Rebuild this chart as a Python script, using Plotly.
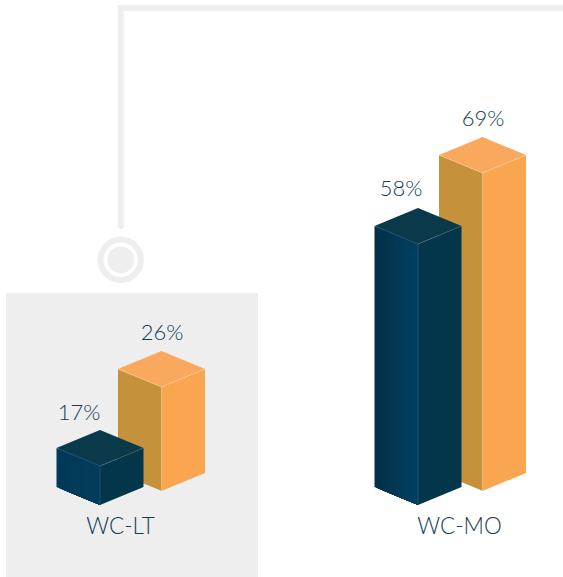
import plotly.graph_objects as go

# Data
categories = ["WC-LT", "WC-MO"]
series_navy_labels = [17, 58]
series_orange_labels = [26, 69]
# Drawn front-edge heights of the columns (the picture is not to a common scale)
navy_heights = [39, 261]
orange_heights = [104, 318]

W, H = 563, 577
HALF_W, HALF_D = 43.5, 18
NAVY_CX = [100, 418]
ORANGE_CX = [161.5, 482.5]
NAVY_BASE = H - 505
ORANGE_BASE = H - 491

NAVY_LT = dict(top="#0a3a4a", right="#03354b", l0="#013a58", l1="#013c5a")
NAVY_MO = dict(top="#0a3a4a", right="#03354b", l0="#033049", l1="#013f5f")
ORANGE = dict(top="#fba85f", right="#faa54f", l0="#c6913b", l1="#c6913b")
TEXT = "#143d52"
GREY = "#eeeeee"


def mix(a, b, t):
    ca = [int(a[i:i + 2], 16) for i in (1, 3, 5)]
    cb = [int(b[i:i + 2], 16) for i in (1, 3, 5)]
    return "#%02x%02x%02x" % tuple(round(x + (y - x) * t) for x, y in zip(ca, cb))


fig = go.Figure()


def poly(xs, ys, color):
    fig.add_trace(go.Scatter(x=xs, y=ys, mode="lines", fill="toself", fillcolor=color,
                             line=dict(width=0), hoverinfo="skip", showlegend=False))


def seam(xs, ys, color):
    fig.add_trace(go.Scatter(x=xs, y=ys, mode="lines", line=dict(width=0.7, color=color),
                             hoverinfo="skip", showlegend=False))


def column(cx, base, h, c, seamcolor, strips):
    top = base + h
    xr = cx + 0.5
    for i in range(strips):
        a = i / strips
        x0 = cx - HALF_W + a * HALF_W
        y0 = HALF_D * (1 - a)
        # each strip reaches the front edge, so the next one paints over it with no gap
        poly([x0, xr, xr, x0], [base + y0, base, top, top + y0],
             mix(c["l0"], c["l1"], min(1, a * 1.15)))
    poly([cx, cx + HALF_W, cx + HALF_W, cx],
         [base, base + HALF_D, top + HALF_D, top], c["right"])
    poly([cx, cx + HALF_W, cx, cx - HALF_W],
         [top, top + HALF_D, top + 2 * HALF_D, top + HALF_D], c["top"])
    seam([cx - HALF_W, cx, cx + HALF_W], [top + HALF_D, top, top + HALF_D], seamcolor)
    seam([cx, cx], [base, top], seamcolor)


for i in range(len(categories)):
    column(ORANGE_CX[i], ORANGE_BASE, orange_heights[i], ORANGE, "rgba(255,225,190,0.6)", 1)
    column(NAVY_CX[i], NAVY_BASE, navy_heights[i], [NAVY_LT, NAVY_MO][i], "rgba(150,180,195,0.3)", 24)

label_y = lambda base, h, d: base + h + 2 * HALF_D + d
fig.add_trace(go.Scatter(
    x=[c + d for c, d in zip(NAVY_CX, [-21, -17])] + [c + d for c, d in zip(ORANGE_CX, [0.5, 0.5])],
    y=[label_y(NAVY_BASE, h, d) for h, d in zip(navy_heights, [15.5, 18])]
      + [label_y(ORANGE_BASE, h, 16.5) for h in orange_heights],
    mode="text",
    text=[f"{v}%" for v in series_navy_labels + series_orange_labels],
    textfont=dict(family="Lato Light, Lato", size=22, color=TEXT),
    hoverinfo="skip", showlegend=False))
fig.add_trace(go.Scatter(
    x=[120.5, 459.5], y=[H - 528, H - 528], mode="text", text=categories,
    textfont=dict(family="Lato Light, Lato", size=22.5, color=TEXT),
    hoverinfo="skip", showlegend=False))

shapes = [
    dict(type="rect", x0=6, x1=258, y0=0, y1=H - 293, fillcolor=GREY, line_width=0, layer="below"),
    dict(type="path", path=f"M 120.7 {H-226} L 120.7 {H-8} L 570 {H-8}",
         line=dict(color=GREY, width=6), layer="below"),
    dict(type="circle", x0=117.7, x1=123.7, y0=H - 229, y1=H - 223, fillcolor=GREY, line_width=0, layer="below"),
    dict(type="circle", x0=100.5, x1=140.9, y0=H - 280, y1=H - 239.6, fillcolor="white",
         line=dict(color=GREY, width=6), layer="below"),
    dict(type="circle", x0=107.3, x1=134.1, y0=H - 273.2, y1=H - 246.4, fillcolor=GREY,
         line_width=0, layer="below"),
]

fig.update_layout(
    width=W, height=H, margin=dict(l=0, r=0, t=0, b=0),
    paper_bgcolor="white", plot_bgcolor="white", shapes=shapes, showlegend=False,
    xaxis=dict(range=[0, W], visible=False, fixedrange=True),
    yaxis=dict(range=[0, H], visible=False, fixedrange=True),
)
fig.write_html("out.html", config=dict(displayModeBar=False),
               post_script="document.body.style.margin='0';document.documentElement.style.overflow='hidden';")
